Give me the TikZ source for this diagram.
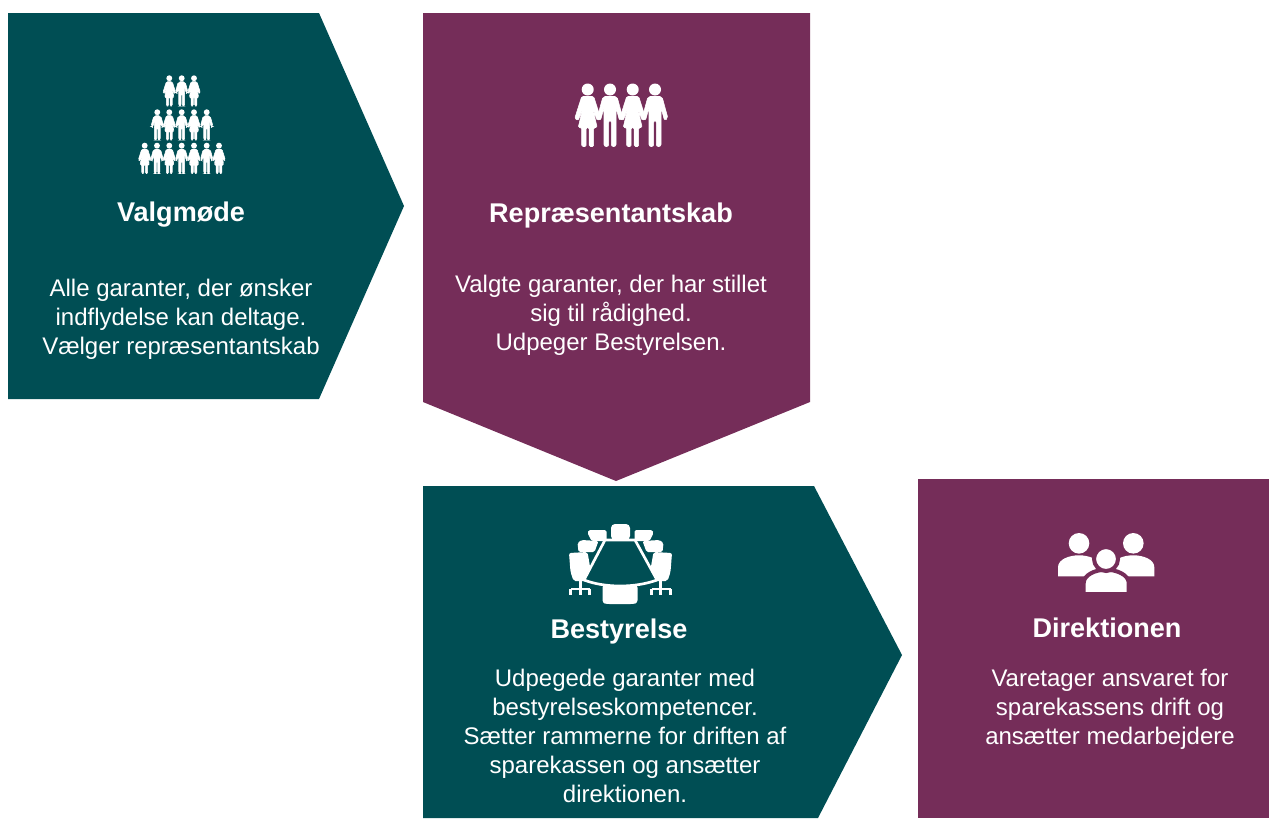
\documentclass[tikz,border=0pt]{standalone}
\usepackage{fontspec}
\setmainfont{Liberation Sans}
\definecolor{teal}{HTML}{004E54}
\definecolor{plum}{HTML}{752D59}
\tikzset{
	title/.style={text=white,font=\fontsize{20.3}{24}\selectfont\bfseries,inner sep=0pt},
	body/.style={text=white,font=\fontsize{18}{21.6}\selectfont,align=center,inner sep=0pt},
	manicon/.pic={
		\fill[white] (0,6) circle(6);
		\fill[white,draw=white,line width=0.4pt,rounded corners=1.5pt] (-7,13)--(7,13)--(13,35)--(9.5,37)--(6,24)--(6,63)--(1.3,63)--(1.3,37)--(-1.3,37)--(-1.3,63)--(-6,63)--(-6,24)--(-9.5,37)--(-13,35)--cycle;
	},
	womanicon/.pic={
		\fill[white] (0,6) circle(6);
		\fill[white,draw=white,line width=0.4pt,rounded corners=1pt] (-6,13)--(6,13)--(13,35)--(9.5,37)--(5,25)--(9.5,44)--(6,44)--(6,63)--(1.5,63)--(1.5,44)--(-1.5,44)--(-1.5,63)--(-6,63)--(-6,44)--(-9.5,44)--(-5,25)--(-9.5,37)--(-13,35)--cycle;
	},
	sideperson/.pic={
		\fill[white] (0,0) circle(10.3);
		\fill[white] (-21,33)--(-21,24) .. controls (-21,16) and (-10,12) .. (0,12) .. controls (10,12) and (21,16) .. (21,24)--(21,33)--cycle;
	}
}
\begin{document}
\begin{tikzpicture}[x=0.75pt,y=-0.75pt,>=stealth]
	\useasboundingbox (0,0) rectangle (1269,818);
	% the four blocks
	\fill[teal] (8,13)--(319,13)--(404,206)--(319,399)--(8,399)--cycle;
	\fill[plum] (423,13)--(810,13)--(810,402)--(616,481)--(423,402)--cycle;
	\fill[teal] (423,486)--(814,486)--(902,655)--(818,818)--(423,818)--cycle;
	\fill[plum] (918,479)--(1269,479)--(1269,818)--(918,818)--cycle;
	% crowd
	\foreach \x/\kind in {169.3/womanicon,181.7/manicon,194/womanicon}
		\pic[scale=0.49] at (\x,75.3) {\kind};
	\foreach \x/\kind in {157.3/manicon,169.3/womanicon,181.7/manicon,194/womanicon,206.7/manicon}
		\pic[scale=0.49] at (\x,109.3) {\kind};
	\foreach \x/\kind in {144.7/womanicon,157/manicon,169.3/womanicon,181.7/manicon,194/womanicon,206.7/manicon,219/womanicon}
		\pic[scale=0.49] at (\x,142.7) {\kind};
	% four people
	\foreach \x/\kind in {587.7/womanicon,610/manicon,632.7/womanicon,655/manicon}
		\pic at (\x,83.5) {\kind};
	% table and chairs
	\fill[white,rounded corners=3pt] (611,540)--(611,524)--(630,524)--(630,540)--cycle;
	\foreach \s in {1,-1}{
		\begin{scope}[shift={(620.5,0)},xscale=\s]
			\fill[white,rounded corners=1.2pt] (14,530)--(32,530)--(33,533)--(29,541)--(14,541)--cycle;
			\fill[white,rounded corners=1.2pt] (22,541)--(39,540)--(43,543)--(42,552)--(26,552)--cycle;
			\fill[white,rounded corners=1.5pt] (28,581)--(33,552)--(51.5,553)--(50,572)--(47,581)--cycle;
			\draw[white,line width=1.8pt] (40,581)--(40,589) (31,589)--(50,589) (31,589)--(31,595) (40,589)--(40,595) (50,589)--(50,595);
		\end{scope}
	}
	\fill[white,rounded corners=2pt] (602.5,585)--(637.5,585)--(637.5,603)--(633,604)--(607,604)--(602.5,603)--cycle;
	\draw[white,line width=2pt,line join=round,fill=teal] (605,540)--(635,540)--(657,580) .. controls (635,588) and (605,588) .. (584,580)--cycle;
	% three people
	\pic at (1079,543.3) {sideperson};
	\pic at (1133.3,543.3) {sideperson};
	\fill[white,draw=plum,line width=3pt] (1083.7,594)--(1083.7,583) .. controls (1083.7,575) and (1095,569.7) .. (1106,569.7) .. controls (1117,569.7) and (1128.7,575) .. (1128.7,583)--(1128.7,594)--cycle;
	\fill[white,draw=plum,line width=3pt] (1106,559) circle(12);
	% texts
	\node[title] (valgTitle) at (181,215) {Valgmøde};
	\node[body] (valgBody) at (181,319) {Alle garanter, der ønsker\\indflydelse kan deltage.\\Vælger repræsentantskab};
	\node[title] (repTitle) at (611,215) {Repræsentantskab};
	\node[body] (repBody) at (611,315.5) {Valgte garanter, der har stillet\\sig til rådighed.\\Udpeger Bestyrelsen.};
	\node[title] (bestTitle) at (619,631) {Bestyrelse};
	\node[body] (bestBody) at (625,736) {Udpegede garanter med\\bestyrelseskompetencer.\\Sætter rammerne for driften af\\sparekassen og ansætter\\direktionen.};
	\node[title] (direkTitle) at (1107,628) {Direktionen};
	\node[body] (direkBody) at (1110,709) {Varetager ansvaret for\\sparekassens drift og\\ansætter medarbejdere};
\end{tikzpicture}
\end{document}
